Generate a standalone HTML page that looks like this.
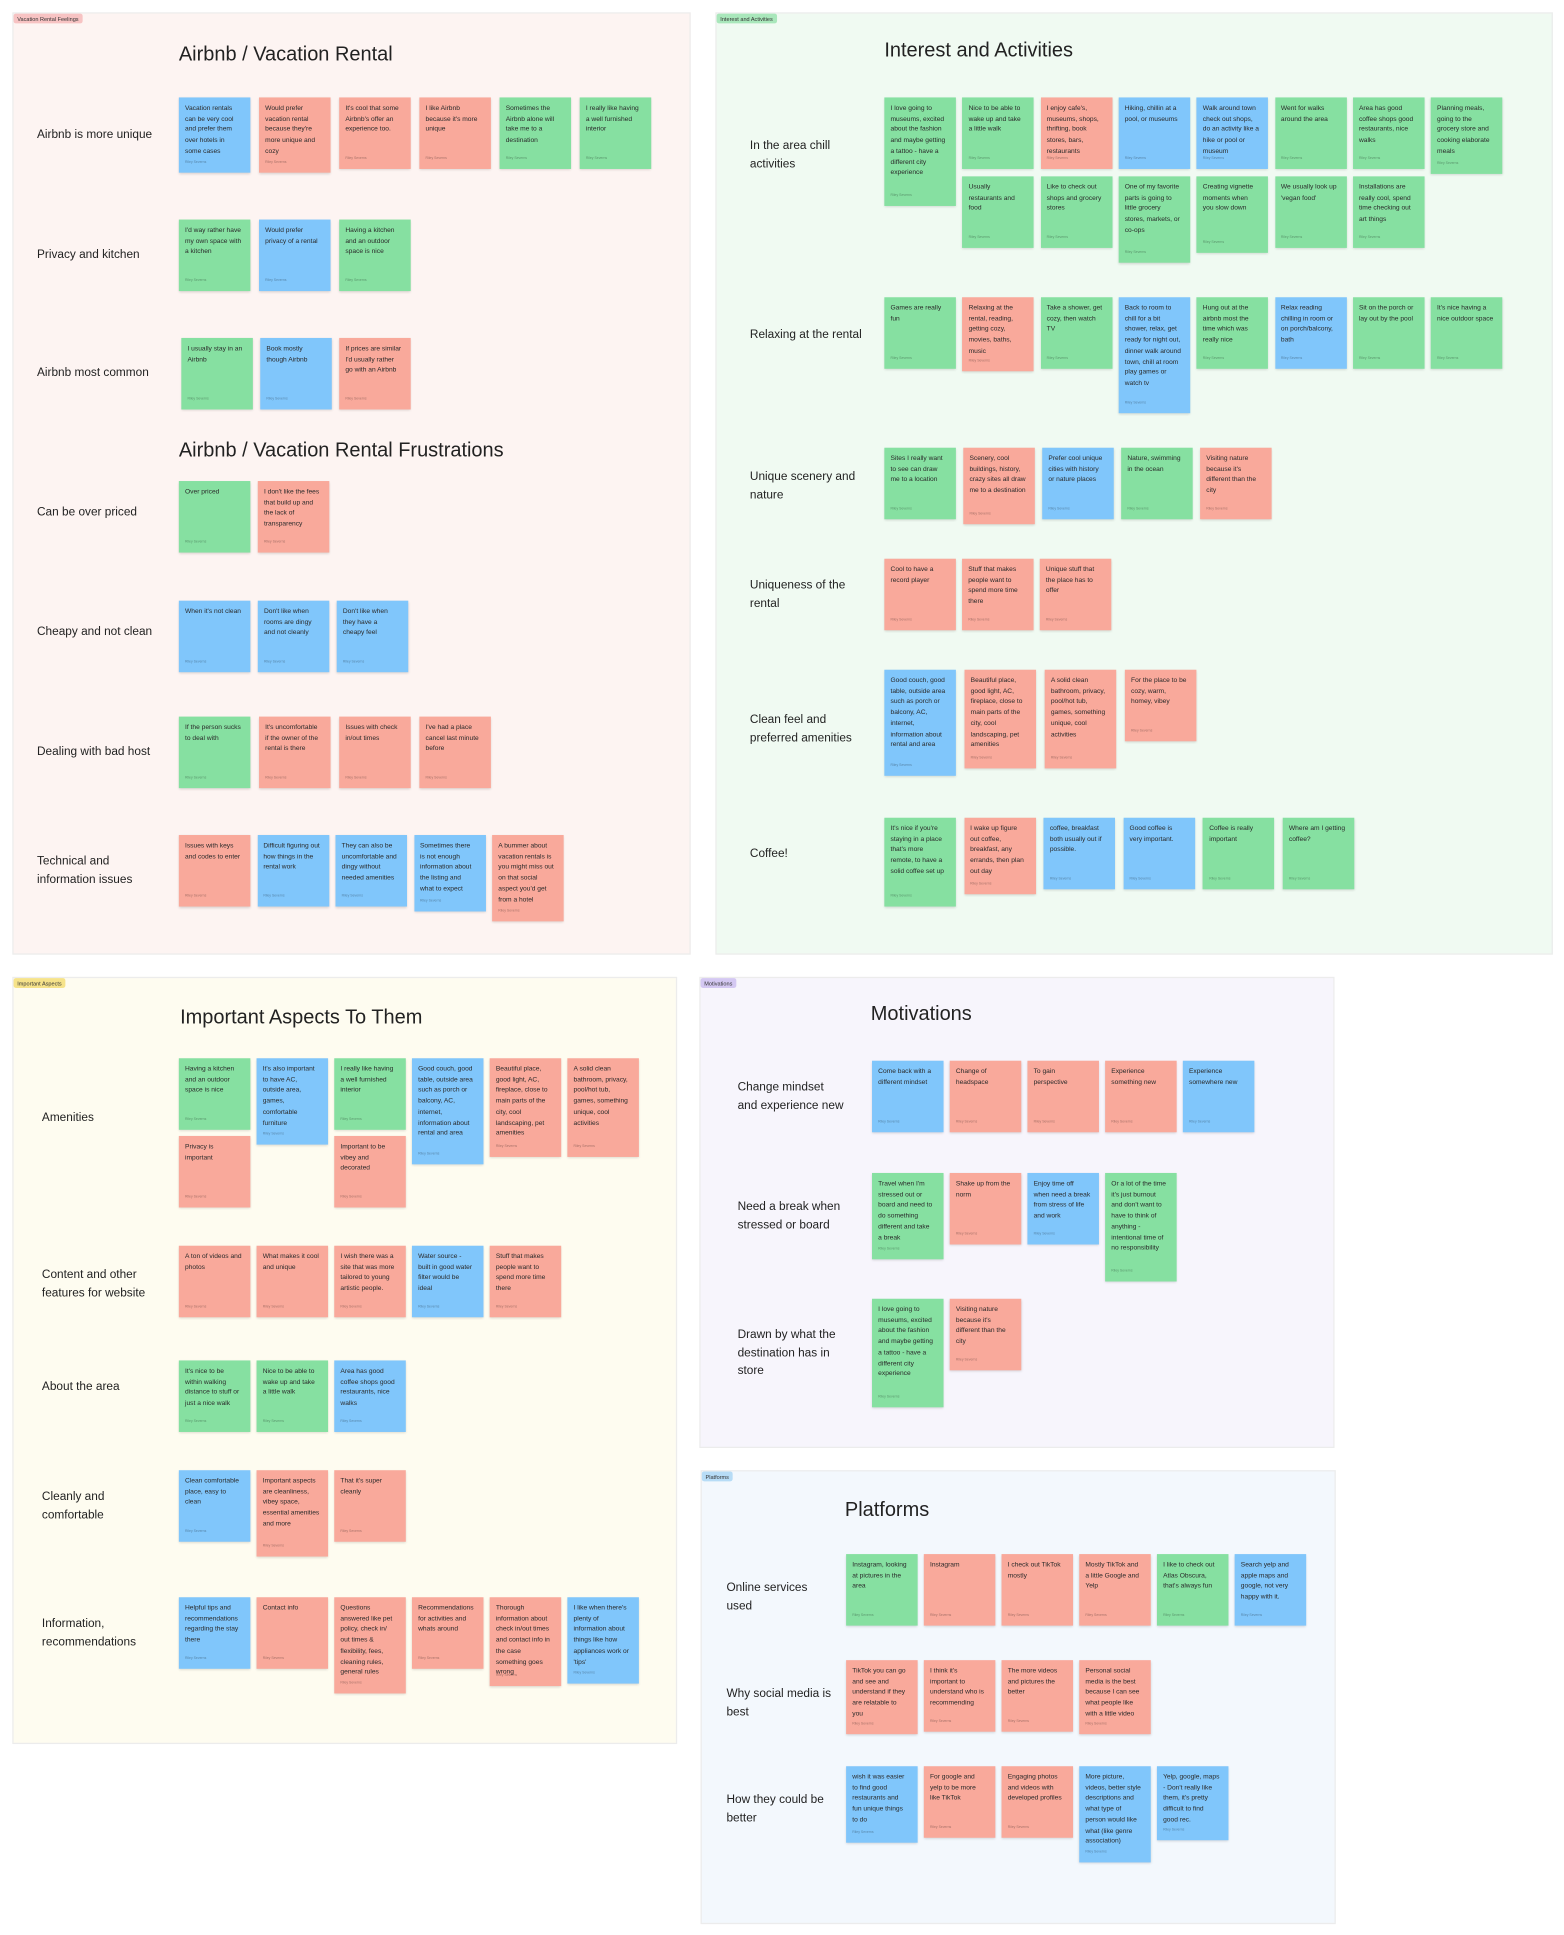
<!DOCTYPE html>
<html><head><meta charset="utf-8">
<style>
html,body{margin:0;padding:0;background:#fff;}
body{width:1564px;height:1935px;overflow:hidden;position:relative;font-family:"Liberation Sans",sans-serif;}
#stage{position:absolute;left:0;top:0;width:1268px;height:1569px;transform:scale(1.2334);transform-origin:0 0;}
.panel{position:absolute;border:1px solid #ececec;}
.tag{position:absolute;font-size:4.5px;padding:1.5px 3px;border-radius:2px;color:#333;}
.title{position:absolute;font-size:16.2px;color:#222;white-space:nowrap;}
.label{position:absolute;font-size:9.6px;line-height:14.5px;color:#222;}
.note{position:absolute;width:58px;box-sizing:border-box;padding:5px 7px 0 5px;font-size:5.4px;line-height:8.7px;color:#2a2a2a;box-shadow:0 1px 2px rgba(0,0,0,.15);}
.note .who{position:absolute;left:5px;bottom:4px;font-size:2.8px;color:rgba(0,0,0,.35);}
</style></head><body>
<div id="stage"></div>
<script>
const stage=document.getElementById('stage');
const COL={g:'#86e0a1',s:'#f9a99b',b:'#80c6fb'};
const panels=[
 ['vacation-rental-feelings',10,10,548,762,'#fdf4f2','Vacation Rental Feelings','#f7c3c3'],
 ['interest-and-activities',580,10,677,762,'#f0faf2','Interest and Activities','#a9e7bb'],
 ['important-aspects',10,792,537,620,'#fefcf0','Important Aspects','#f6e38a'],
 ['motivations',567,792,513,380,'#f7f5fc','Motivations','#d4c8f2'],
 ['platforms',568,1192,513,366,'#f3f8fd','Platforms','#b7dcf6']
];
const titles=[[145,35,'Airbnb / Vacation Rental'],[145,356,'Airbnb / Vacation Rental Frustrations'],[717,32,'Interest and Activities'],[146,816,'Important Aspects To Them'],[706,813,'Motivations'],[685,1215,'Platforms']];
const rows=[
 [30,103,'Airbnb is more unique',145,65,79,[['b','Vacation rentals can be very cool and prefer them over hotels in some cases',61],['s','Would prefer vacation rental because they\'re more unique and cozy',61],['s','It\'s cool that some Airbnb\'s offer an experience too.'],['s','I like Airbnb because it\'s more unique'],['g','Sometimes the Airbnb alone will take me to a destination'],['g','I really like having a well furnished interior']]],
 [30,200,'Privacy and kitchen',145,65,178,[['g','I\'d way rather have my own space with a kitchen'],['b','Would prefer privacy of a rental'],['g','Having a kitchen and an outdoor space is nice']]],
 [30,296,'Airbnb most common',147,64,274,[['g','I usually stay in an Airbnb'],['b','Book mostly though Airbnb'],['s','If prices are similar I\'d usually rather go with an Airbnb']]],
 [30,409,'Can be over priced',145,64,390,[['g','Over priced'],['s','I don\'t like the fees that build up and the lack of transparency']]],
 [30,506,'Cheapy and not clean',145,64,487,[['b','When it\'s not clean'],['b','Don\'t like when rooms are dingy and not cleanly'],['b','Don\'t like when they have a cheapy feel']]],
 [30,603,'Dealing with bad host',145,65,581,[['g','If the person sucks to deal with'],['s','It\'s uncomfortable if the owner of the rental is there'],['s','Issues with check in/out times'],['s','I\'ve had a place cancel last minute before']]],
 [30,692,'Technical and<br>information issues',145,63.5,677,[['s','Issues with keys and codes to enter'],['b','Difficult figuring out how things in the rental work'],['b','They can also be uncomfortable and dingy without needed amenities'],['b','Sometimes there is not enough information about the listing and what to expect',62],['s','A bummer about vacation rentals is you might miss out on that social aspect you\'d get from a hotel',70]]],
 [608,112,'In the area chill<br>activities',717,63.3,79,[['g','I love going to museums, excited about the fashion and maybe getting a tattoo - have a different city experience',88],['g','Nice to be able to wake up and take a little walk'],['s','I enjoy cafe\'s, museums, shops, thrifting, book stores, bars, restaurants'],['b','Hiking, chillin at a pool, or museums'],['b','Walk around town check out shops, do an activity like a hike or pool or museum'],['g','Went for walks around the area'],['g','Area has good coffee shops good restaurants, nice walks'],['g','Planning meals, going to the grocery store and cooking elaborate meals',62],
   ['g','Usually restaurants and food',58,1,143],['g','Like to check out shops and grocery stores',58,2,143],['g','One of my favorite parts is going to little grocery stores, markets, or co-ops',70,3,143],['g','Creating vignette moments when you slow down',62,4,143],['g','We usually look up \'vegan food\'',58,5,143],['g','Installations are really cool, spend time checking out art things',58,6,143]]],
 [608,265,'Relaxing at the rental',717,63.3,241,[['g','Games are really fun'],['s','Relaxing at the rental, reading, getting cozy, movies, baths, music',60],['g','Take a shower, get cozy, then watch TV'],['b','Back to room to chill for a bit shower, relax, get ready for night out, dinner walk around town, chill at room play games or watch tv',94],['g','Hung out at the airbnb most the time which was really nice'],['b','Relax reading chilling in room or on porch/balcony, bath'],['g','Sit on the porch or lay out by the pool'],['g','It\'s nice having a nice outdoor space']]],
 [608,380,'Unique scenery and<br>nature',717,64,363,[['g','Sites I really want to see can draw me to a location'],['s','Scenery, cool buildings, history, crazy sites all draw me to a destination',62],['b','Prefer cool unique cities with history or nature places'],['g','Nature, swimming in the ocean'],['s','Visiting nature because it\'s different than the city']]],
 [608,468,'Uniqueness of the<br>rental',717,63,453,[['s','Cool to have a record player'],['s','Stuff that makes people want to spend more time there'],['s','Unique stuff that the place has to offer']]],
 [608,577,'Clean feel and<br>preferred amenities',717,65,543,[['b','Good couch, good table, outside area such as porch or balcony, AC, internet, information about rental and area',86],['s','Beautiful place, good light, AC, fireplace, close to main parts of the city, cool landscaping, pet amenities',80],['s','A solid clean bathroom, privacy, pool/hot tub, games, something unique, cool activities',80],['s','For the place to be cozy, warm, homey, vibey']]],
 [608,686,'Coffee!',717,64.6,663,[['g','It\'s nice if you\'re staying in a place that\'s more remote, to have a solid coffee set up',72],['s','I wake up figure out coffee, breakfast, any errands, then plan out day',62],['b','coffee, breakfast both usually out if possible.'],['b','Good coffee is very important.'],['g','Coffee is really important'],['g','Where am I getting coffee?']]],
 [34,900,'Amenities',145,63,858,[['g','Having a kitchen and an outdoor space is nice'],['b','It\'s also important to have AC, outside area, games, comfortable furniture',70],['g','I really like having a well furnished interior'],['b','Good couch, good table, outside area such as porch or balcony, AC, internet, information about rental and area',86],['s','Beautiful place, good light, AC, fireplace, close to main parts of the city, cool landscaping, pet amenities',80],['s','A solid clean bathroom, privacy, pool/hot tub, games, something unique, cool activities',80],
   ['s','Privacy is important',58,0,921],['s','Important to be vibey and decorated',58,2,921]]],
 [34,1027,'Content and other<br>features for website',145,63,1010,[['s','A ton of videos and photos'],['s','What makes it cool and unique'],['s','I wish there was a site that was more tailored to young artistic people.'],['b','Water source - built in good water filter would be ideal'],['s','Stuff that makes people want to spend more time there']]],
 [34,1118,'About the area',145,63,1103,[['g','It\'s nice to be within walking distance to stuff or just a nice walk'],['g','Nice to be able to wake up and take a little walk'],['b','Area has good coffee shops good restaurants, nice walks']]],
 [34,1207,'Cleanly and<br>comfortable',145,63,1192,[['b','Clean comfortable place, easy to clean'],['s','Important aspects are cleanliness, vibey space, essential amenities and more',70],['s','That it\'s super cleanly']]],
 [34,1310,'Information,<br>recommendations',145,63,1295,[['b','Helpful tips and recommendations regarding the stay there'],['s','Contact info'],['s','Questions answered like pet policy, check in/ out times &amp; flexibility, fees, cleaning rules, general rules',78],['s','Recommendations for activities and whats around'],['s','Thorough information about check in/out times and contact info in the case something goes wrong',72],['b','I like when there\'s plenty of information about things like how appliances work or \'tips\'',70]]],
 [598,875,'Change mindset<br>and experience new',707,63,860,[['b','Come back with a different mindset'],['s','Change of headspace'],['s','To gain perspective'],['s','Experience something new'],['b','Experience somewhere new']]],
 [598,972,'Need a break when<br>stressed or board',707,63,951,[['g','Travel when I\'m stressed out or board and need to do something different and take a break',70],['s','Shake up from the norm'],['b','Enjoy time off when need a break from stress of life and work'],['g','Or a lot of the time it\'s just burnout and don\'t want to have to think of anything - intentional time of no responsibility',88]]],
 [598,1076,'Drawn by what the<br>destination has in<br>store',707,63,1053,[['g','I love going to museums, excited about the fashion and maybe getting a tattoo - have a different city experience',88],['s','Visiting nature because it\'s different than the city']]],
 [589,1281,'Online services<br>used',686,63,1260,[['g','Instagram, looking at pictures in the area'],['s','Instagram'],['s','I check out TikTok mostly'],['s','Mostly TikTok and a little Google and Yelp'],['g','I like to check out Atlas Obscura, that\'s always fun'],['b','Search yelp and apple maps and google, not very happy with it.']]],
 [589,1367,'Why social media is<br>best',686,63,1346,[['s','TikTok you can go and see and understand if they are relatable to you',60],['s','I think it\'s important to understand who is recommending'],['s','The more videos and pictures the better'],['s','Personal social media is the best because I can see what people like with a little video',60]]],
 [589,1453,'How they could be<br>better',686,63,1432,[['b','wish it was easier to find good restaurants and fun unique things to do',62],['s','For google and yelp to be more like TikTok'],['s','Engaging photos and videos with developed profiles'],['b','More picture, videos, better style descriptions and what type of person would like what (like genre association)',78],['b','Yelp, google, maps - Don\'t really like them, it\'s pretty difficult to find good rec.',60]]]
];
panels.forEach(p=>{
 const d=document.createElement('div');d.className='panel';
 
 
 d.style.cssText=`left:${p[1]}px;top:${p[2]}px;width:${p[3]}px;height:${p[4]}px;background:${p[5]}`;
 stage.appendChild(d);
 const t=document.createElement('div');t.className='tag';t.textContent=p[6];
 
 
 t.style.cssText=`left:${p[1]+1}px;top:${p[2]+1}px;background:${p[7]}`;
 stage.appendChild(t);
});
titles.forEach(t=>{
 const d=document.createElement('div');d.className='title';d.textContent=t[2];
 
 
 d.style.left=t[0]+'px';d.style.top=t[1]+'px';stage.appendChild(d);
});
rows.forEach(r=>{
 const l=document.createElement('div');l.className='label';l.innerHTML=r[2];
 
 
 l.style.left=r[0]+'px';l.style.top=r[1]+'px';stage.appendChild(l);
 r[6].forEach((n,i)=>{
  const col=n[3]!==undefined?n[3]:i;const top=n[4]!==undefined?n[4]:r[5];
  const d=document.createElement('div');d.className='note';
  
  
  d.style.cssText=`left:${r[3]+col*r[4]}px;top:${top}px;height:${n[2]||58}px;background:${COL[n[0]]}`;
  d.innerHTML=n[1]+'<span class="who">Riley Severns</span>';
  stage.appendChild(d);
 });
});
</script>
</body></html>
